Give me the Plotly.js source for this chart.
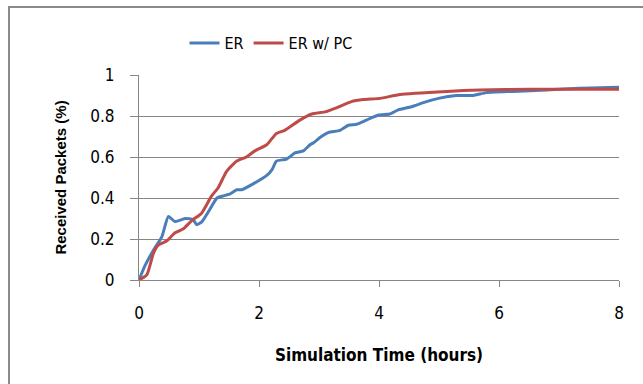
<!DOCTYPE html>
<html>
<head>
<meta charset="utf-8">
<script src="https://cdn.plot.ly/plotly-3.0.1.min.js"></script>
<style>
html,body{margin:0;padding:0;background:#fff;}
#wrap{position:relative;width:643px;height:384px;overflow:hidden;}
#chart{position:absolute;left:0;top:0;width:643px;height:384px;}
#frame{position:absolute;left:8px;top:6px;width:700px;height:420px;border:2px solid #8a8a8a;pointer-events:none;}
</style>
</head>
<body>
<div id="wrap"><div id="chart"></div><div id="frame"></div></div>
<script>
const erX = [0, 0.1, 0.25, 0.38, 0.49, 0.6, 0.77, 0.9, 0.96, 1.05, 1.15, 1.3, 1.4, 1.52, 1.63, 1.71, 1.91, 2.13, 2.22, 2.29, 2.46, 2.6, 2.74, 2.85, 2.91, 3.04, 3.16, 3.35, 3.49, 3.63, 3.79, 3.99, 4.18, 4.32, 4.54, 4.74, 4.99, 5.29, 5.57, 5.79, 6.24, 6.79, 7.35, 8.0];
const erY = [0, 0.07, 0.15, 0.21, 0.31, 0.285, 0.30, 0.295, 0.27, 0.285, 0.33, 0.40, 0.41, 0.42, 0.44, 0.44, 0.47, 0.51, 0.54, 0.58, 0.59, 0.62, 0.63, 0.66, 0.67, 0.70, 0.72, 0.73, 0.755, 0.76, 0.78, 0.805, 0.81, 0.83, 0.845, 0.865, 0.886, 0.90, 0.90, 0.914, 0.92, 0.927, 0.935, 0.94];
const pcX = [0, 0.13, 0.24, 0.32, 0.46, 0.6, 0.74, 0.88, 1.04, 1.21, 1.32, 1.46, 1.63, 1.79, 1.93, 2.13, 2.29, 2.43, 2.68, 2.88, 3.1, 3.29, 3.54, 3.74, 4.02, 4.35, 5.13, 5.68, 6.52, 8.0];
const pcY = [0, 0.025, 0.13, 0.17, 0.19, 0.23, 0.25, 0.29, 0.325, 0.41, 0.45, 0.53, 0.58, 0.60, 0.63, 0.66, 0.715, 0.73, 0.78, 0.81, 0.82, 0.84, 0.87, 0.88, 0.886, 0.905, 0.92, 0.927, 0.93, 0.93];
const seriesNames = ["ER", "ER w/ PC"];
const xTicks = [0, 2, 4, 6, 8];
const yTicks = [0, 0.2, 0.4, 0.6, 0.8, 1];
const yTickText = ["0", "0.2", "0.4", "0.6", "0.8", "1"];

const narrow = "'DejaVu Sans Condensed', 'Open Sans', sans-serif";
const traces = [
  {x: erX, y: erY, name: seriesNames[0], mode: "lines", line: {color: "#4a7ebb", width: 3, shape: "spline", smoothing: 0.5}},
  {x: pcX, y: pcY, name: seriesNames[1], mode: "lines", line: {color: "#be4b48", width: 3, shape: "spline", smoothing: 0.5}}
];
const layout = {
  width: 643, height: 384,
  margin: {l: 139, r: 24, t: 75, b: 104},
  paper_bgcolor: "#fff", plot_bgcolor: "#fff",
  showlegend: true,
  legend: {orientation: "h", x: 0.275, xanchor: "center", y: 1.156, yanchor: "middle",
           font: {family: narrow, size: 16, color: "#000"}, tracegroupgap: 0},
  xaxis: {range: [0, 8], tickvals: xTicks, ticktext: xTicks.map(String), showgrid: false, zeroline: false,
          showline: true, linecolor: "#868686", linewidth: 1, ticks: "outside", ticklen: 6, tickcolor: "#868686",
          ticklabelstandoff: 12,
          tickfont: {family: narrow, size: 17, color: "#000"},
          title: {text: "<b>Simulation Time (hours)</b>", font: {family: narrow, size: 17, color: "#000"}, standoff: 26}},
  yaxis: {range: [0, 1], tickvals: yTicks, ticktext: yTickText, showgrid: true, gridcolor: "#868686", gridwidth: 1,
          zeroline: false, showline: true, linecolor: "#868686", linewidth: 1, ticks: "outside", ticklen: 8, tickcolor: "#868686",
          ticklabelstandoff: 12,
          tickfont: {family: narrow, size: 17, color: "#000"},
          title: {text: "<b>Received Packets (%)</b>", font: {family: "'Liberation Sans', Arial, sans-serif", size: 15, color: "#000"}, standoff: 20}}
};
Plotly.newPlot("chart", traces, layout, {displayModeBar: false, staticPlot: true});
</script>
</body>
</html>
